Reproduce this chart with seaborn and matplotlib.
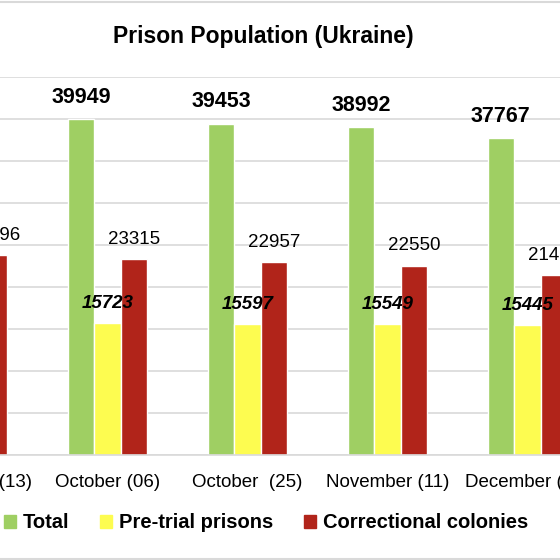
import pandas as pd
import matplotlib
matplotlib.use("Agg")
import matplotlib.pyplot as plt
import seaborn as sns
from matplotlib.lines import Line2D

# Datos (la figura original está recortada a los lados)
dates = ["September (13)", "October (06)", "October  (25)", "November (11)", "December (09)"]
total = [40210, 39949, 39453, 38992, 37767]
pretrial = [15850, 15723, 15597, 15549, 15445]
colonies = [23796, 23315, 22957, 22550, 21420]

series = ["Total", "Pre-trial prisons", "Correctional colonies"]
colors = ["#9fcf63", "#fdfc50", "#b1241a"]

df = pd.DataFrame({
    "date": dates * 3,
    "series": [series[0]] * len(dates) + [series[1]] * len(dates) + [series[2]] * len(dates),
    "value": total + pretrial + colonies,
})

sns.set_theme(style="white")
plt.rcParams["font.family"] = ["Liberation Sans", "DejaVu Sans"]
plt.rcParams["text.color"] = "black"

fig = plt.figure(figsize=(5.6, 5.6), dpi=100)
# los ejes se salen de la figura para reproducir el recorte
ax = fig.add_axes([-102.5 / 560, 1 - 455 / 560, 700 / 560, 378 / 560])

sns.barplot(data=df, x="date", y="value", hue="series", order=dates,
            hue_order=series, palette=colors, width=0.57, saturation=1,
            ax=ax, legend=False)

ax.set_xlim(-0.5, 4.5)
ax.set_ylim(0, 45000)
ax.set_yticks(range(0, 45001, 5000))
ax.set_yticklabels([])
ax.yaxis.grid(True, color="#d9d9d9", linewidth=1.2)
ax.set_axisbelow(True)
ax.set_xlabel("")
ax.set_ylabel("")
for side in ["top", "left", "right"]:
    ax.spines[side].set_visible(False)
ax.spines["bottom"].set_color("#d9d9d9")
ax.spines["bottom"].set_linewidth(1.2)
ax.tick_params(axis="x", length=0, pad=14, labelsize=13.5, labelcolor="black")
ax.tick_params(axis="y", length=0)

# etiquetas de valores
ax.bar_label(ax.containers[0], padding=8, fontsize=15.5, fontweight="bold", color="black")
ax.bar_label(ax.containers[1], padding=8, fontsize=13.5, fontweight="bold",
             fontstyle="italic", color="black")
ax.bar_label(ax.containers[2], padding=8, fontsize=13.5, color="black")

fig.text(263 / 560, 1 - 36 / 560, "Prison Population (Ukraine)",
         ha="center", va="center", fontsize=16.5, fontweight="bold", color="black")

handles = [plt.Rectangle((0, 0), 1, 1, color=c) for c in colors]
leg = fig.legend(handles, series, loc="center", bbox_to_anchor=(266 / 560, 1 - 523 / 560),
                 ncol=3, frameon=False, handlelength=0.6, handleheight=0.6,
                 handletextpad=0.35, columnspacing=1.5,
                 prop={"weight": "bold", "size": 14.5})
for t in leg.get_texts():
    t.set_color("black")

# borde del área del gráfico
fig.add_artist(Line2D([0, 1], [1 - 2 / 560, 1 - 2 / 560], color="#d9d9d9", linewidth=1.5))
fig.add_artist(Line2D([0, 1], [1 - 559 / 560, 1 - 559 / 560], color="#d9d9d9", linewidth=1.5))

fig.savefig("out.png", dpi=100)
